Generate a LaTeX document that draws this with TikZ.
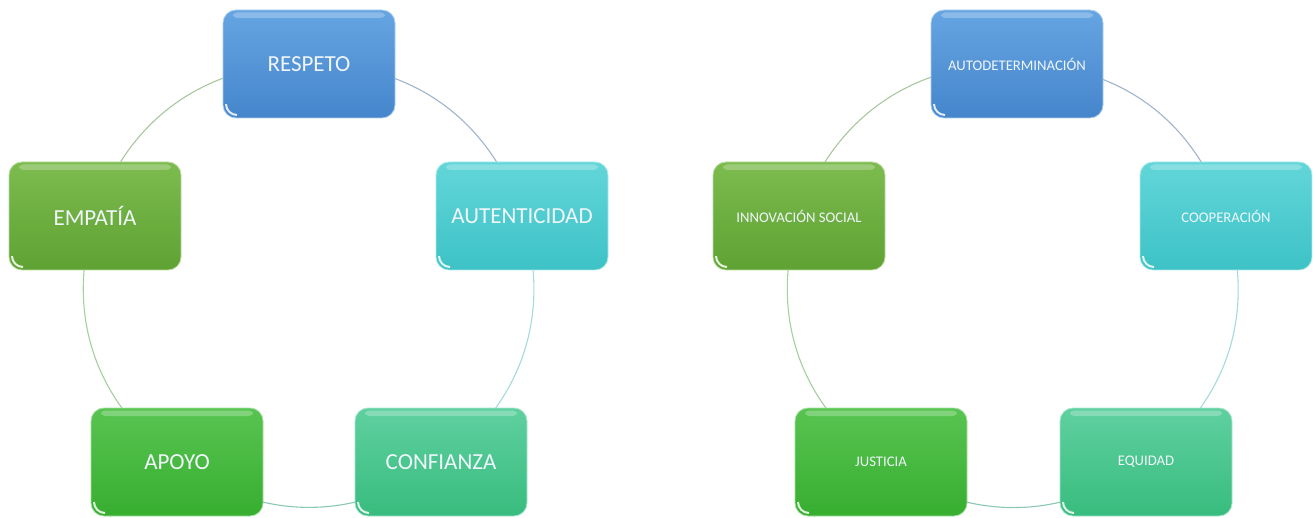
\documentclass[tikz,border=0pt]{standalone}
\usepackage{fontspec}
\setmainfont{Carlito}
\usetikzlibrary{backgrounds}
\definecolor{blueT}{HTML}{66A5E2}
\definecolor{blueB}{HTML}{4585CB}
\definecolor{cyanT}{HTML}{62D6D9}
\definecolor{cyanB}{HTML}{3DC2C6}
\definecolor{seaT}{HTML}{5FD0A0}
\definecolor{seaB}{HTML}{38BC7E}
\definecolor{grnT}{HTML}{58C451}
\definecolor{grnB}{HTML}{37AE30}
\definecolor{limT}{HTML}{7DBB4E}
\definecolor{limB}{HTML}{5FA233}
\definecolor{txtc}{HTML}{F0F6FB}
\definecolor{lnTL}{HTML}{A9C79C}
\definecolor{lnTR}{HTML}{9FB3CF}
\definecolor{lnR}{HTML}{A4DADC}
\definecolor{lnB}{HTML}{8AC8B4}
\definecolor{lnL}{HTML}{A2D19C}
\tikzset{
  gbox/.style={rectangle, rounded corners=13pt, minimum width=172pt, minimum height=108pt,
    inner sep=0pt, text=txtc, line width=0.8pt,
    path picture={
      \fill[white,opacity=0.25,rounded corners=4pt]
        ([xshift=10pt,yshift=-2.5pt]path picture bounding box.north west) rectangle
        ([xshift=-10pt,yshift=-8pt]path picture bounding box.north east);
      \draw[white,opacity=0.85,line width=2pt]
        ([xshift=3pt,yshift=14pt]path picture bounding box.south west)
        arc[start angle=180,end angle=270,radius=11pt];
    }},
  big/.style={font=\fontsize{23}{27}\selectfont},
  small/.style={font=\fontsize{14.7}{17}\selectfont},
  cblue/.style={top color=blueT, bottom color=blueB, draw=blueT!55!white},
  ccyan/.style={top color=cyanT, bottom color=cyanB, draw=cyanT!55!white},
  csea/.style={top color=seaT, bottom color=seaB, draw=seaT!55!white},
  cgrn/.style={top color=grnT, bottom color=grnB, draw=grnT!55!white},
  clim/.style={top color=limT, bottom color=limB, draw=limT!55!white},
  link/.style={line width=1.1pt, bend left=36}
}
\begin{document}
\begin{tikzpicture}[x=1pt,y=1pt]
\useasboundingbox (0,0) rectangle (1313,517);
% left cycle
\node[gbox,big,cblue] (respeto) at (309,453) {RESPETO};
\node[gbox,big,ccyan] (autent) at (522,301) {AUTENTICIDAD};
\node[gbox,big,csea] (confianza) at (441,55) {CONFIANZA};
\node[gbox,big,cgrn] (apoyo) at (177,55) {APOYO};
\node[gbox,big,clim] (empatia) at (95,301) {EMPATÍA};
% right cycle
\node[gbox,small,cblue] (autodet) at (1017,453) {AUTODETERMINACIÓN};
\node[gbox,small,ccyan] (coop) at (1226,301) {COOPERACIÓN};
\node[gbox,small,csea] (equidad) at (1146,55) {EQUIDAD};
\node[gbox,small,cgrn] (justicia) at (881,55) {JUSTICIA};
\node[gbox,small,clim] (innov) at (799,301) {INNOVACIÓN SOCIAL};
\begin{scope}[on background layer]
\draw[link,lnTR] (respeto.center) to (autent.center);
\draw[link,lnR] (autent.center) to (confianza.center);
\draw[link,lnB] (confianza.center) to (apoyo.center);
\draw[link,lnL] (apoyo.center) to (empatia.center);
\draw[link,lnTL] (empatia.center) to (respeto.center);
\draw[link,lnTR] (autodet.center) to (coop.center);
\draw[link,lnR] (coop.center) to (equidad.center);
\draw[link,lnB] (equidad.center) to (justicia.center);
\draw[link,lnL] (justicia.center) to (innov.center);
\draw[link,lnTL] (innov.center) to (autodet.center);
\end{scope}
\end{tikzpicture}
\end{document}
